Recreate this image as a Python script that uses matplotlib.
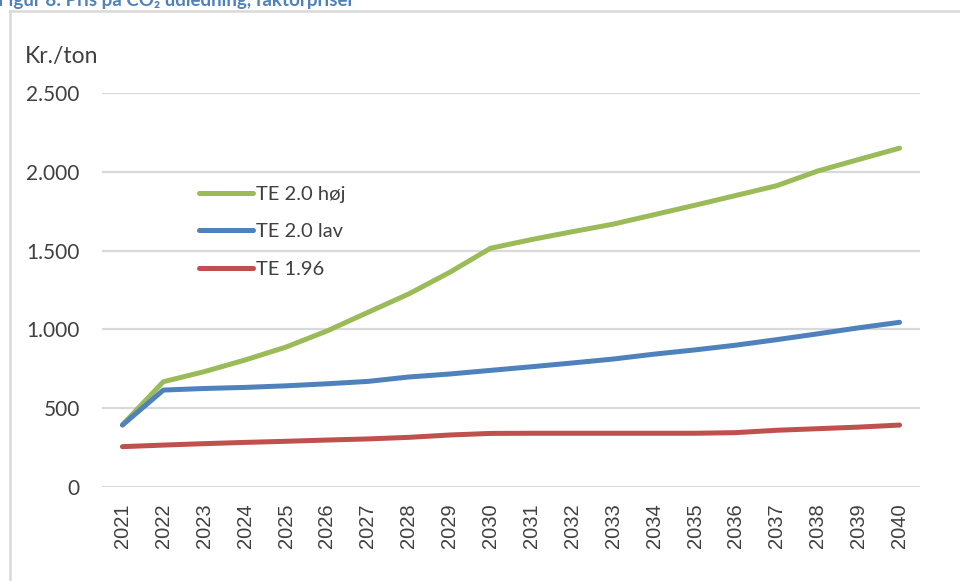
import matplotlib.pyplot as plt
from matplotlib.lines import Line2D
from matplotlib.ticker import FuncFormatter
import numpy as np

# Data
aar = [str(a) for a in range(2021, 2041)]
te20_hoej = [395, 668, 732, 806, 888, 990, 1108, 1225, 1362, 1515,
             1570, 1620, 1668, 1728, 1788, 1850, 1912, 2005, 2078, 2150]
te20_lav = [393, 615, 625, 632, 642, 655, 670, 698, 717, 740,
            763, 787, 812, 843, 870, 900, 935, 972, 1010, 1045]
te196 = [256, 266, 275, 283, 290, 298, 305, 315, 330, 340,
         341, 341, 341, 341, 341, 345, 360, 370, 380, 393]

serier = [('TE 2.0 høj', te20_hoej, '#9bbb59'),
          ('TE 2.0 lav', te20_lav, '#4f81bd'),
          ('TE 1.96', te196, '#c0504d')]

fig = plt.figure(figsize=(9.6, 5.81), dpi=100)
ax = fig.add_axes([102/960, 1 - 487/581, 818/960, 394/581])

x = np.arange(len(aar))
for navn, vaerdier, farve in serier:
    ax.plot(x, vaerdier, color=farve, lw=3.6, solid_capstyle='round', label=navn)

ax.set_xlim(-0.5, len(aar) - 0.5)
ax.set_ylim(0, 2500)
ax.set_yticks(range(0, 2501, 500))
ax.yaxis.set_major_formatter(FuncFormatter(lambda v, p: f'{int(v):,}'.replace(',', '.')))
ax.set_xticks(x)
ax.set_xticklabels(aar, rotation=90, family='Liberation Sans', fontsize=14.5, color='#404040')
for lab in ax.get_yticklabels():
    lab.set_family('Lato')
    lab.set_fontsize(15)
    lab.set_color('#404040')
ax.tick_params(axis='both', length=0)
ax.tick_params(axis='y', pad=16)
ax.tick_params(axis='x', pad=12)
ax.grid(axis='y', color='#d9d9d9', lw=1.6)
ax.set_axisbelow(True)
for s in ax.spines.values():
    s.set_visible(False)

ax.legend(loc='upper left', bbox_to_anchor=(0.1186, 0.764), frameon=False,
          prop={'family': 'Lato', 'size': 14.5}, labelcolor='#404040',
          handlelength=2.7, handletextpad=0.15, labelspacing=1.0,
          borderpad=0, borderaxespad=0)

fig.text(25/960, 1 - 57/581, 'Kr./ton', family='Lato', fontsize=16.5,
         color='#404040', va='center', ha='left')

# Ramme (kun top og venstre synlig)
fig.add_artist(Line2D([10/960, 10/960], [0, 1 - 11/581], color='#d9d9d9', lw=1.8,
                      transform=fig.transFigure))
fig.add_artist(Line2D([10/960, 1], [1 - 11/581, 1 - 11/581], color='#d9d9d9', lw=1.8,
                      transform=fig.transFigure))

# Overskrift, afskåret i toppen som i originalen
fig.text(-2/960, 1 - 6/581, 'Figur 8: Pris på CO₂ udledning, faktorpriser',
         family=['Lato', 'DejaVu Sans'], fontsize=13.5, fontweight='bold',
         color='#4f81bd', va='baseline', ha='left')

fig.savefig('out.png', dpi=100)
